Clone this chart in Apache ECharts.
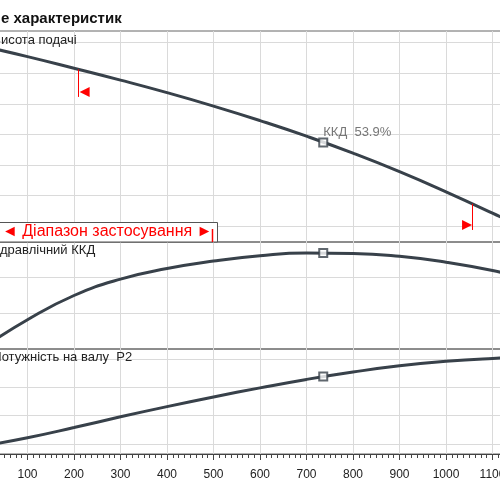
<!DOCTYPE html>
<html>
<head>
<meta charset="utf-8">
<script src="https://cdn.jsdelivr.net/npm/echarts@6/dist/echarts.min.js"></script>
<style>
    html, body { margin: 0; padding: 0; background: #fff; }
    #chart { width: 500px; height: 500px; }
</style>
</head>
<body>
<div id="chart"></div>
<script>
// подача Q, м3/год
const flow = [0, 100, 200, 300, 400, 500, 600, 700, 800, 900, 1000, 1100, 1200];
// висота подачі H, м
const head = [15.80, 15.09, 14.33, 13.55, 12.73, 11.85, 10.90, 9.88, 8.77, 7.56, 6.24, 4.84, 3.38];
// гідравлічний ККД, %
const efficiency = [0, 16.4, 30.0, 39.2, 45.1, 49.3, 52.3, 53.8, 53.6, 52.0, 48.7, 44.0, 37.8];
// потужність на валу P2, кВт
const power = [19.6, 21.1, 22.9, 24.8, 26.6, 28.3, 29.9, 31.4, 32.7, 33.8, 34.6, 35.1, 35.4];

// робоча точка
const dutyFlow = 736;
const dutyHead = 9.47;
const dutyEff = 53.9;
const dutyPower = 31.9;

// межі діапазону застосування
const rangeFlow = [210, 1056];
const rangeHeadTop = [14.25, 5.45];
const rangeHeadBottom = [12.45, 3.74];

// сітка по осях Y (підписи обрізані зліва)
const headTicks = [4, 6, 8, 10, 12, 14, 16];
const effTicks = [20, 40];
const powerTicks = [20, 25, 30, 35];

const FONT = 'Liberation Sans';
const CURVE = '#38414a';
const GRID_LINE = '#dadada';
const FRAME = '#666';
const RED = '#ff0000';

const pairs = (ys) => flow.map((q, i) => [q, ys[i]]);

const grids = [
    {top: 31, height: 211},
    {top: 242, height: 107},
    {top: 349, height: 105}
].map(g => Object.assign({
    left: -19, right: -39, show: true, outerBoundsMode: 'none', containLabel: false,
    borderColor: FRAME, borderWidth: 1, backgroundColor: 'transparent'
}, g));

function xAxisFor(idx, last) {
    return {
        type: 'value', gridIndex: idx, min: 0, max: 1200, interval: 100,
        axisLine: {show: last, lineStyle: {color: '#444', width: 1}},
        axisTick: {show: last, length: 6, lineStyle: {color: '#444'}},
        minorTick: {show: last, splitNumber: 8, length: 4, lineStyle: {color: '#444'}},
        axisLabel: {show: last, margin: 15, color: '#222', fontSize: 12, fontFamily: FONT,
            formatter: v => String(v)},
        splitLine: {show: true, lineStyle: {color: GRID_LINE, width: 1}}
    };
}

function yAxisFor(idx, min, max, ticks) {
    return {
        type: 'value', gridIndex: idx, min: min, max: max,
        axisLine: {show: false},
        axisTick: {show: false, customValues: ticks},
        axisLabel: {show: false},
        splitLine: {show: true, lineStyle: {color: GRID_LINE, width: 1}}
    };
}

function curve(idx, ys, extra) {
    return Object.assign({
        type: 'line', xAxisIndex: idx, yAxisIndex: idx,
        data: pairs(ys), smooth: 0.5, symbol: 'none',
        lineStyle: {color: CURVE, width: 3}, z: 3
    }, extra || {});
}

function dutyPoint(idx, value, label) {
    return {
        type: 'scatter', xAxisIndex: idx, yAxisIndex: idx,
        data: [[dutyFlow, value]], symbol: 'rect', symbolSize: 8, z: 5,
        itemStyle: {color: '#fff', borderColor: CURVE, borderWidth: 2},
        label: label ? {
            show: true, position: [5, -12], formatter: label,
            color: '#555', fontSize: 13, fontFamily: FONT
        } : {show: false}
    };
}

const chart = echarts.init(document.getElementById('chart'));

chart.setOption({
    animation: false,
    backgroundColor: '#fff',
    grid: grids,
    xAxis: [xAxisFor(0, false), xAxisFor(1, false), xAxisFor(2, true)],
    yAxis: [
        yAxisFor(0, 2.953, 16.766, headTicks),
        yAxisFor(1, 0, 60, effTicks),
        yAxisFor(2, 18.235, 36.765, powerTicks)
    ],
    series: [
        curve(0, head, {
            markLine: {
                silent: true, symbol: 'none', animation: false,
                label: {show: false},
                lineStyle: {color: RED, width: 1, type: 'solid'},
                data: rangeFlow.map((q, i) => [
                    {coord: [q, rangeHeadTop[i]]},
                    {coord: [q, rangeHeadBottom[i]]}
                ])
            },
            markPoint: {
                silent: true, animation: false,
                label: {show: false},
                itemStyle: {color: RED},
                data: [
                    {coord: [rangeFlow[0], rangeHeadBottom[0]], symbol: 'path://M10,0L0,5L10,10Z',
                        symbolSize: [10, 10], symbolOffset: [6, -5]},
                    {coord: [rangeFlow[1], rangeHeadBottom[1]], symbol: 'path://M0,0L10,5L0,10Z',
                        symbolSize: [10, 10], symbolOffset: [-5, -5]}
                ]
            }
        }),
        curve(1, efficiency),
        curve(2, power),
        dutyPoint(0, dutyHead, 'ККД  ' + dutyEff + '%'),
        dutyPoint(1, dutyEff),
        dutyPoint(2, dutyPower)
    ],
    graphic: [
        {type: 'text', x: 1, y: 19, z: 10,
            style: {text: 'е характеристик', font: 'bold 15px ' + FONT, fill: '#111', verticalAlign: 'middle'}},
        {type: 'text', x: -7.7, y: 40, z: 10,
            style: {text: 'Висота подачі', font: '13px ' + FONT, fill: '#222', verticalAlign: 'middle'}},
        {type: 'text', x: -9.9, y: 250, z: 10,
            style: {text: 'Гідравлічний ККД', font: '13px ' + FONT, fill: '#222', verticalAlign: 'middle'}},
        {type: 'text', x: -7.7, y: 357, z: 10,
            style: {text: 'Потужність на валу  P2', font: '13px ' + FONT, fill: '#222', verticalAlign: 'middle'}},
        // рамка "Діапазон застосування"
        {type: 'rect', z: 10,
            shape: {x: -2, y: 222.5, width: 219.5, height: 19.5},
            style: {fill: '#fff', stroke: '#555', lineWidth: 1}},
        {type: 'text', x: 2, y: 232, z: 11,
            style: {text: '◄ Діапазон застосування ►', font: '16px ' + FONT, fill: RED, verticalAlign: 'middle'}},
        {type: 'line', z: 11,
            shape: {x1: 212.5, y1: 229, x2: 212.5, y2: 242},
            style: {stroke: RED, lineWidth: 1.5}}
    ]
});
</script>
</body>
</html>
